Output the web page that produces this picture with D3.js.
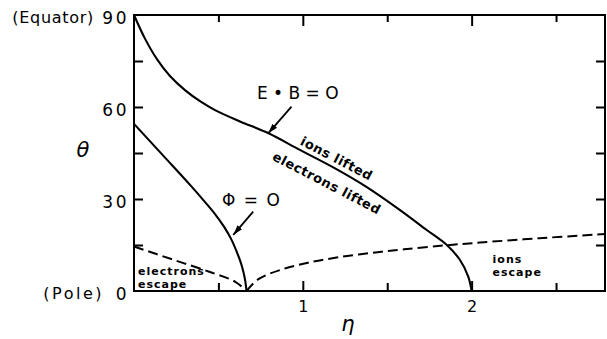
<!DOCTYPE html>
<html>
<head>
<meta charset="utf-8">
<script src="https://cdn.jsdelivr.net/npm/d3@7"></script>
<style>
  html, body { margin: 0; padding: 0; background: #fff; }
  svg { display: block; }
  text { font-family: "DejaVu Sans", "Liberation Sans", sans-serif; fill: #000; }
</style>
</head>
<body>
<svg id="chart" width="607" height="339"></svg>
<script>
// E·B = 0 boundary (eta, theta in degrees)
const ebCurve = [
  [0, 90], [0.065, 82.3], [0.136, 75.6], [0.213, 70.1], [0.302, 65.5],
  [0.391, 61.9], [0.480, 59.0], [0.628, 55.3], [0.794, 51.5], [0.983, 46.0],
  [1.191, 40.0], [1.379, 33.9], [1.576, 26.4], [1.734, 19.9], [1.853, 15.0],
  [1.931, 10.1], [1.980, 4.7], [2.0, 0]
];
// Phi = 0 boundary
const phiCurve = [
  [0, 54.5], [0.184, 43.5], [0.332, 34.6], [0.421, 29.0], [0.480, 25.1],
  [0.533, 21.0], [0.575, 17.0], [0.610, 12.6], [0.637, 8.5], [0.656, 4.2],
  [0.667, 0]
];
// Escape boundaries (dashed)
const electronEscape = [
  [0, 14.5], [0.233, 10.2], [0.45, 6.2], [0.6, 3.0], [0.667, 0]
];
const ionEscape = [
  [0.667, 0], [0.735, 3.8], [0.874, 7.0], [1.03, 9.2], [1.2, 10.9],
  [1.4, 12.4], [1.6, 13.6], [1.85, 14.9], [2.05, 15.8], [2.4, 17.2], [2.79, 18.6]
];

const etaDomain = [0, 2.79];
const thetaDomain = [0, 90];
const etaMajorTicks = [1, 2];
const etaMinorTicks = [0.5, 1.5, 2.5];
const thetaTicks = [15, 30, 45, 60, 75];
const thetaLabels = [0, 30, 60, 90];

const svg = d3.select("#chart");
const plotLeft = 134, plotRight = 605, plotTop = 15, plotBottom = 291;

const x = d3.scaleLinear().domain(etaDomain).range([plotLeft, plotRight]);
const y = d3.scaleLinear().domain(thetaDomain).range([plotBottom, plotTop]);

// Tick marks, all pointing into the plot
function tickAxis(axis, transform) {
  const g = svg.append("g").attr("transform", transform).call(axis);
  g.select(".domain").remove();
  g.selectAll("line").attr("stroke", "#000").attr("stroke-width", 2);
  g.selectAll("text").remove();
  return g;
}
tickAxis(d3.axisBottom(x).tickValues(etaMajorTicks).tickSize(-10), `translate(0,${plotBottom})`);
tickAxis(d3.axisBottom(x).tickValues(etaMinorTicks).tickSize(-8), `translate(0,${plotBottom})`);
tickAxis(d3.axisTop(x).tickValues(etaMajorTicks).tickSize(-11), `translate(0,${plotTop})`);
tickAxis(d3.axisTop(x).tickValues(etaMinorTicks).tickSize(-7), `translate(0,${plotTop})`);
tickAxis(d3.axisLeft(y).tickValues(thetaTicks).tickSize(-9), `translate(${plotLeft},0)`);
tickAxis(d3.axisRight(y).tickValues(thetaTicks).tickSize(-9), `translate(${plotRight},0)`);

// Frame
svg.append("rect")
  .attr("x", plotLeft).attr("y", plotTop)
  .attr("width", plotRight - plotLeft).attr("height", plotBottom - plotTop)
  .attr("fill", "none").attr("stroke", "#000").attr("stroke-width", 2);

// Tick labels
const yLab = svg.append("g").attr("transform", `translate(${plotLeft},0)`)
  .call(d3.axisLeft(y).tickValues(thetaLabels).tickSize(0).tickPadding(5).tickFormat(d3.format("d")));
yLab.select(".domain").remove();
yLab.selectAll("text")
  .attr("font-size", 17).attr("letter-spacing", 2.5).attr("dy", "0.48em")
  .style("font-family", "DejaVu Sans");

const xLab = svg.append("g").attr("transform", `translate(0,${plotBottom})`)
  .call(d3.axisBottom(x).tickValues(etaMajorTicks).tickSize(0).tickPadding(10).tickFormat(d3.format("d")));
xLab.select(".domain").remove();
xLab.selectAll("text").attr("font-size", 16).style("font-family", "DejaVu Sans");

svg.append("text").attr("x", 94).attr("y", y(90) + 8)
  .attr("text-anchor", "end").attr("font-size", 16).attr("letter-spacing", 0.7)
  .text("(Equator)");
svg.append("text").attr("x", 104).attr("y", y(0) + 8)
  .attr("text-anchor", "end").attr("font-size", 16).attr("letter-spacing", 2.5)
  .text("(Pole)");

// Axis titles
svg.append("text").attr("x", 83).attr("y", 157)
  .attr("text-anchor", "middle").attr("font-size", 21).attr("font-style", "italic")
  .text("θ");
svg.append("text").attr("x", 348).attr("y", 331)
  .attr("text-anchor", "middle").attr("font-size", 21).attr("font-style", "italic")
  .text("η");

// Curves
const line = d3.line().x(d => x(d[0])).y(d => y(d[1])).curve(d3.curveCatmullRom.alpha(0.5));
const plot = svg.append("g");
plot.append("path").attr("d", line(ebCurve))
  .attr("fill", "none").attr("stroke", "#000").attr("stroke-width", 2.1);
plot.append("path").attr("d", line(phiCurve))
  .attr("fill", "none").attr("stroke", "#000").attr("stroke-width", 2.1);
plot.append("path").attr("d", line(electronEscape))
  .attr("fill", "none").attr("stroke", "#000").attr("stroke-width", 2)
  .attr("stroke-dasharray", "10,5");
plot.append("path").attr("d", line(ionEscape))
  .attr("fill", "none").attr("stroke", "#000").attr("stroke-width", 2)
  .attr("stroke-dasharray", "10,5");

// Annotation arrows (eta, theta of tail and head)
svg.append("defs").append("marker")
  .attr("id", "head").attr("viewBox", "0 0 10 10")
  .attr("refX", 10).attr("refY", 5)
  .attr("markerWidth", 10).attr("markerHeight", 10)
  .attr("markerUnits", "userSpaceOnUse")
  .attr("orient", "auto")
  .append("path").attr("d", "M0,2 L10,5 L0,8 Z").attr("fill", "#000");

const arrows = [
  { from: [0.933, 60.1], to: [0.795, 51.4] },
  { from: [0.706, 25.9], to: [0.588, 18.3] }
];
arrows.forEach(a => {
  svg.append("line")
    .attr("x1", x(a.from[0])).attr("y1", y(a.from[1]))
    .attr("x2", x(a.to[0])).attr("y2", y(a.to[1]))
    .attr("stroke", "#000").attr("stroke-width", 1.8)
    .attr("marker-end", "url(#head)");
});

// Curve labels
svg.append("text").attr("x", x(0.728)).attr("y", y(62.5))
  .attr("font-size", 17).text("E • B = O");
svg.append("text").attr("x", x(0.521)).attr("y", y(27.7))
  .attr("font-size", 17).attr("letter-spacing", 1.5).text("Φ = O");

// Region labels
function slanted(text, eta, theta, angle) {
  svg.append("text")
    .attr("transform", `translate(${x(eta)},${y(theta)}) rotate(${angle})`)
    .attr("text-anchor", "middle").attr("dominant-baseline", "central")
    .attr("font-size", 13).attr("font-weight", "bold").attr("letter-spacing", 0.5)
    .text(text);
}
slanted("ions lifted", 1.20, 43.2, 27.5);
slanted("electrons lifted", 1.142, 35.2, 27.5);

// Stacked two-line labels, each line its own text element
function block(lines, eta, theta, spacing) {
  lines.forEach((s, i) => {
    svg.append("text")
      .attr("x", x(eta)).attr("y", y(theta) + i * spacing)
      .attr("font-size", 11).attr("font-weight", "bold").attr("letter-spacing", 1)
      .text(s);
  });
}
block(["electrons", "escape"], 0.024, 5.3, 13);
block(["ions", "escape"], 2.124, 9.1, 13);
</script>
</body>
</html>
